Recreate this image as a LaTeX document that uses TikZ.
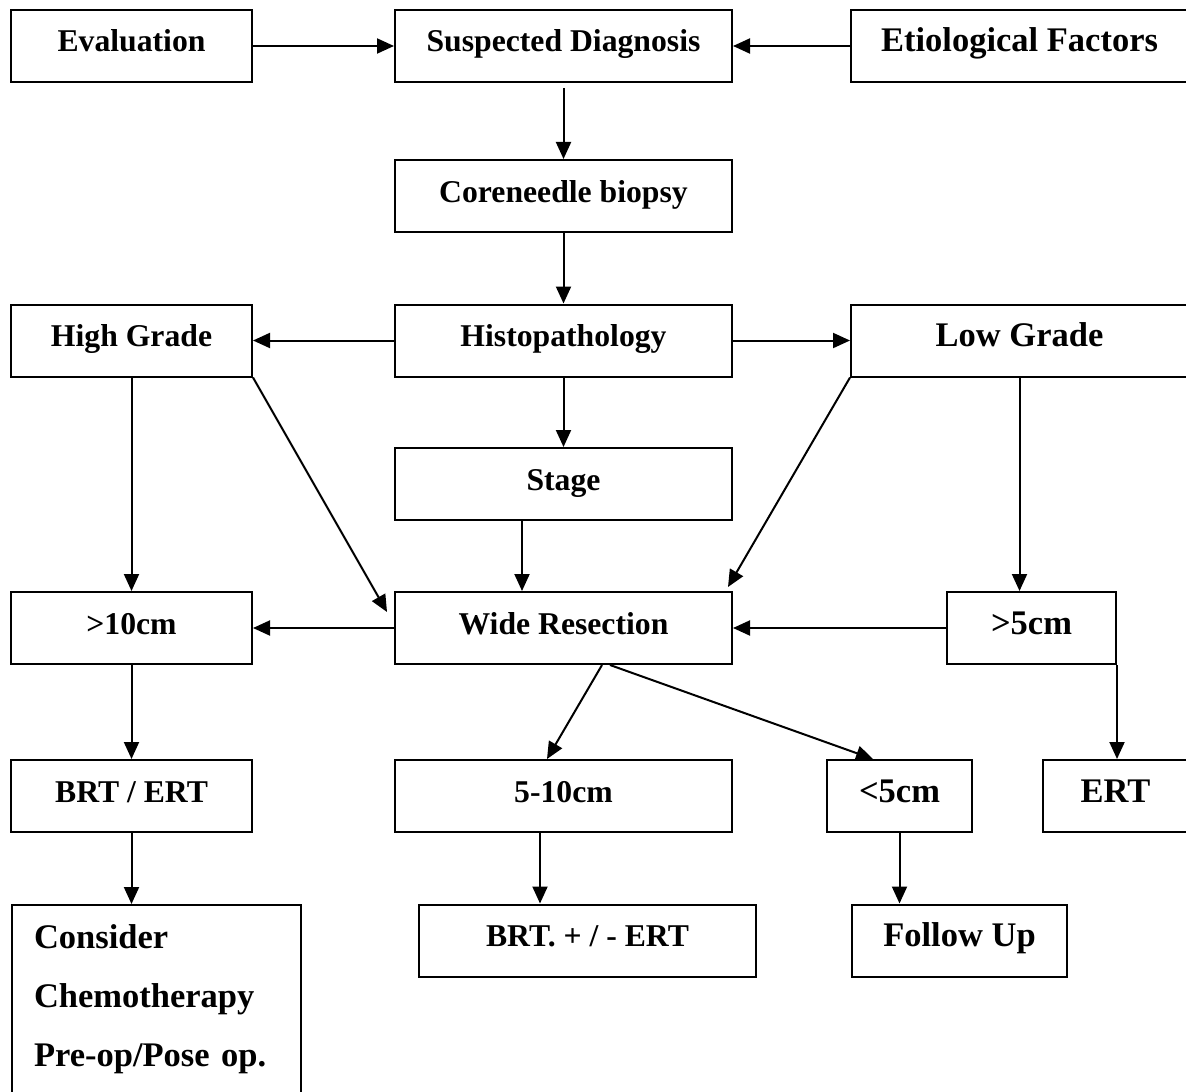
\documentclass[tikz,border=0pt]{standalone}
\usepackage{fontspec}
\setmainfont{Liberation Serif}
\usetikzlibrary{arrows.meta}

\begin{document}
\begin{tikzpicture}[
  x=0.5pt, y=-0.5pt, line width=1pt,
  >={Triangle[length=8.5pt,width=7.5pt]},
  box/.style={rectangle, draw, minimum height=36pt, inner sep=0pt, text height=12.5pt, text depth=6.5pt, font=\fontsize{15.85pt}{18pt}\selectfont\bfseries},
  bigbox/.style={box, font=\fontsize{17.25pt}{20pt}\selectfont\bfseries},
  notebox/.style={rectangle, draw, anchor=north west, align=left, text width=122.5pt, inner xsep=11pt, inner ysep=10pt, font=\fontsize{17.25pt}{29.5pt}\selectfont\bfseries},
  flow/.style={->},
]
  \useasboundingbox (0,0) rectangle (1186,1091);
  % first rows
  \node[box, minimum width=120.5pt] (eval) at (131.5,46) {Evaluation};
  \node[box, minimum width=168.5pt] (susp) at (563.5,46) {Suspected Diagnosis};
  \node[bigbox, minimum width=168.5pt] (etio) at (1019.5,46) {Etiological Factors};
  \node[box, minimum width=168.5pt] (core) at (563.5,196) {Coreneedle biopsy};
  \node[box, minimum width=168.5pt] (histo) at (563.5,340.5) {Histopathology};
  \node[box, minimum width=120.5pt] (high) at (131.5,340.5) {High Grade};
  \node[bigbox, minimum width=168.5pt] (low) at (1019.5,340.5) {Low Grade};
  \node[box, minimum width=168.5pt] (stage) at (563.5,484) {Stage};
  % sizes and treatment
  \node[box, minimum width=120.5pt] (over10) at (131.5,628) {>10cm};
  \node[box, minimum width=168.5pt] (wide) at (563.5,628) {Wide Resection};
  \node[bigbox, minimum width=84.5pt] (over5) at (1031.5,628) {>5cm};
  \node[box, minimum width=120.5pt] (brtert) at (131.5,796) {BRT / ERT};
  \node[box, minimum width=168.5pt] (mid) at (563.5,796) {5-10cm};
  \node[bigbox, minimum width=72.5pt] (under5) at (899.5,796) {<5cm};
  \node[bigbox, minimum width=72.5pt] (ert) at (1115.5,796) {ERT};
  \node[box, minimum width=168.5pt] (brtpm) at (587.5,940.5) {BRT. + / - ERT};
  \node[bigbox, minimum width=107.5pt] (follow) at (959.5,940.5) {Follow Up};
  \node[notebox] (chemo) at (11,904) {Consider\\Chemotherapy\\Pre-op/Pose op.};

  \draw[flow] (eval) -- (susp);
  \draw[flow] (etio) -- (susp);
  \draw[flow, shorten <=2.5pt] (susp) -- (core);
  \draw[flow] (core) -- (histo);
  \draw[flow] (histo) -- (high);
  \draw[flow] (histo) -- (low);
  \draw[flow] (histo) -- (stage);
  \draw[flow] (high) -- (over10);
  \draw[flow] (high.south east) -- ([xshift=-3.5pt,yshift=-10.5pt]wide.north west);
  \draw[flow] (low.south west) -- ([xshift=-2.5pt,yshift=2pt]wide.north east);
  \draw[flow] (low) -- (low |- over5.north);
  \draw[flow] ([xshift=-20.75pt]stage.south) -- ([xshift=-20.75pt]wide.north);
  \draw[flow] (wide) -- (over10);
  \draw[flow] (over5) -- (wide);
  \draw[flow] (over10) -- (brtert);
  \draw[flow] (over5.south east) -- (over5.south east |- ert.north);
  \draw[flow] ([xshift=19.25pt]wide.south) -- ([xshift=-8.25pt]mid.north);
  \draw[flow] ([xshift=23.25pt]wide.south) -- ([xshift=-13.25pt]under5.north);
  \draw[flow] ([xshift=-11.75pt]mid.south) -- ([xshift=-11.75pt]mid.south |- brtpm.north);
  \draw[flow] (under5.south) -- (under5.south |- follow.north);
  \draw[flow] (brtert) -- (brtert.south |- chemo.north);
\end{tikzpicture}
\end{document}
